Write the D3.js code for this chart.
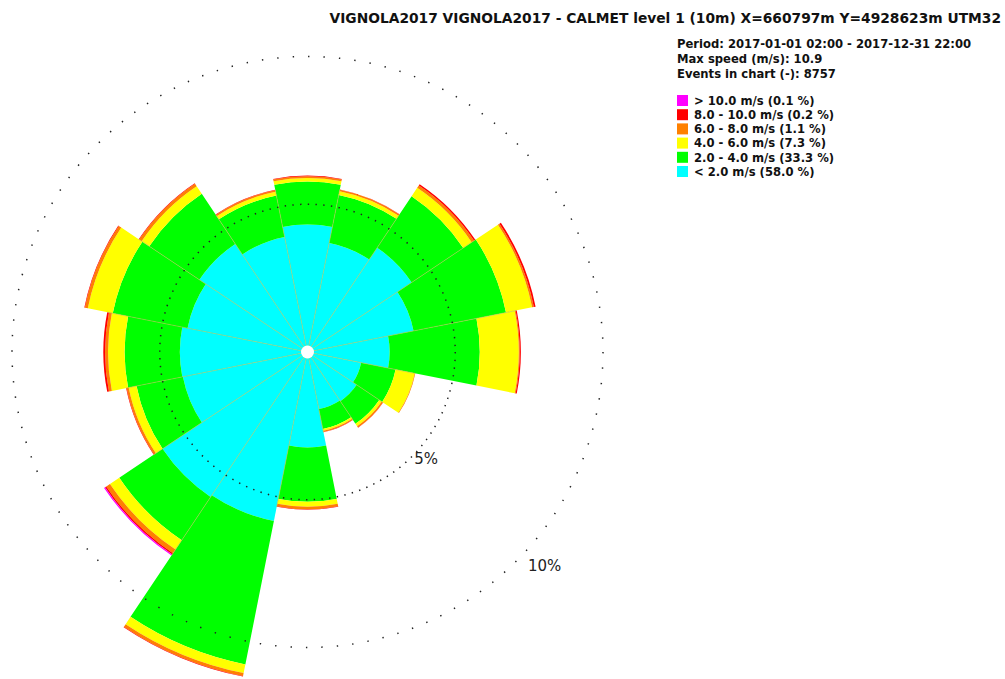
<!DOCTYPE html>
<html>
<head>
<meta charset="utf-8">
<script src="https://cdn.jsdelivr.net/npm/d3@7"></script>
<style>
  html, body { margin: 0; padding: 0; background: #fff; }
  svg { display: block; }
  text { font-family: "DejaVu Sans", sans-serif; }
</style>
</head>
<body>
<svg id="chart" width="1005" height="679"></svg>
<script>
// Wind rose: frequency (%) of each speed class per 22.5° direction sector
const directions = ["N", "NNE", "NE", "ENE", "E", "ESE", "SE", "SSE",
                    "S", "SSW", "SW", "WSW", "W", "WNW", "NW", "NNW"];

const speedBelow2 = [4.31, 3.76, 4.24, 3.66, 2.78, 1.85, 2.00, 1.97, 3.23, 5.83, 5.90, 4.30, 4.32, 4.14, 4.40, 3.97];
const speed2to4   = [1.46, 1.66, 2.10, 3.19, 3.05, 1.19, 0.92, 0.69, 1.84, 4.95, 1.76, 1.60, 1.87, 2.58, 2.04, 1.43];
const speed4to6   = [0.12, 0.13, 0.34, 0.90, 1.32, 0.66, 0.10, 0.06, 0.17, 0.30, 0.38, 0.27, 0.56, 0.86, 0.31, 0.13];
const speed6to8   = [0.06, 0.05, 0.10, 0.06, 0.03, 0.02, 0.05, 0.04, 0.08, 0.10, 0.15, 0.07, 0.10, 0.10, 0.10, 0.05];
const speed8to10  = [0.02, 0.01, 0.05, 0.06, 0.04, 0.00, 0.01, 0.01, 0.02, 0.02, 0.05, 0.02, 0.06, 0.02, 0.02, 0.02];
const speedAbove10 = [0, 0, 0, 0, 0, 0, 0, 0, 0, 0, 0.04, 0, 0, 0, 0, 0];

// speed classes, innermost first
const classKeys = ["lt2", "s2_4", "s4_6", "s6_8", "s8_10", "gt10"];
const classSeries = [speedBelow2, speed2to4, speed4to6, speed6to8, speed8to10, speedAbove10];
const classColors = ["#00ffff", "#00ff00", "#ffff00", "#ff8000", "#ff0000", "#ff00ff"];

// legend entries, top to bottom
const legendLabels = ["> 10.0 m/s (0.1 %)", "8.0 - 10.0 m/s (0.2 %)", "6.0 - 8.0 m/s (1.1 %)",
                      "4.0 - 6.0 m/s (7.3 %)", "2.0 - 4.0 m/s (33.3 %)", "< 2.0 m/s (58.0 %)"];
const legendColors = ["#ff00ff", "#ff0000", "#ff8000", "#ffff00", "#00ff00", "#00ffff"];

const infoLines = ["Period: 2017-01-01 02:00 - 2017-12-31 22:00",
                   "Max speed (m/s): 10.9",
                   "Events in chart (-): 8757"];

const titleText = "VIGNOLA2017 VIGNOLA2017 - CALMET level 1 (10m) X=660797m Y=4928623m UTM32";

const ringValues = [5, 10];
const ringLabels = ["5%", "10%"];

// ---------------------------------------------------------------------------
const svg = d3.select("#chart");
const cx = 307.5, cy = 352;
const r = d3.scaleLinear().domain([0, 10]).range([0, 295.5]);
const sector = 2 * Math.PI / directions.length;

const rows = directions.map((d, i) => {
  const row = { dir: d, idx: i };
  classKeys.forEach((k, j) => row[k] = classSeries[j][i]);
  return row;
});
const stacked = d3.stack().keys(classKeys)(rows);

const g = svg.append("g").attr("transform", `translate(${cx},${cy})`);

const arc = d3.arc()
  .innerRadius(d => r(d[0]))
  .outerRadius(d => r(d[1]))
  .startAngle(d => d.data.idx * sector - sector / 2)
  .endAngle(d => d.data.idx * sector + sector / 2);

g.selectAll("g.layer")
  .data(stacked)
  .join("g")
  .attr("class", "layer")
  .attr("fill", (d, i) => classColors[i])
  .selectAll("path")
  .data(d => d.filter(p => p[1] - p[0] > 0))
  .join("path")
  .attr("d", arc);

// seams between neighbouring sectors
const totals = rows.map(row => d3.sum(classKeys, k => row[k]));
const seams = directions.map((d, i) => ({
  angle: i * sector + sector / 2,
  len: Math.min(totals[i], totals[(i + 1) % directions.length])
}));
g.selectAll("line.seam")
  .data(seams)
  .join("line")
  .attr("class", "seam")
  .attr("x1", 0).attr("y1", 0)
  .attr("x2", d => Math.sin(d.angle) * r(d.len))
  .attr("y2", d => -Math.cos(d.angle) * r(d.len))
  .attr("stroke", "#b8c050")
  .attr("stroke-opacity", 0.75)
  .attr("stroke-width", 0.8);

// dotted reference circles
g.selectAll("circle.ring")
  .data(ringValues)
  .join("circle")
  .attr("class", "ring")
  .attr("r", d => r(d))
  .attr("fill", "none")
  .attr("stroke", "#222")
  .attr("stroke-width", 1.5)
  .attr("stroke-dasharray", d => {
    const step = 2 * Math.PI * r(d) / 120;
    return `1.4 ${step - 1.4}`;
  });

// ring labels along the south-east diagonal
const labelAngle = 132 * Math.PI / 180;
g.selectAll("text.ringlabel")
  .data(ringValues)
  .join("text")
  .attr("class", "ringlabel")
  .attr("x", d => Math.sin(labelAngle) * r(d) * 1.08)
  .attr("y", d => -Math.cos(labelAngle) * r(d) * 1.08)
  .attr("text-anchor", "middle")
  .attr("dominant-baseline", "central")
  .attr("font-size", "15px")
  .attr("fill", "#222")
  .text((d, i) => ringLabels[i]);

// calm hole at the centre
g.append("circle").attr("r", 6.5).attr("fill", "#fff");

// title
svg.append("text")
  .attr("x", 1001).attr("y", 23)
  .attr("text-anchor", "end")
  .attr("font-size", "13.8px")
  .attr("font-weight", "bold")
  .attr("fill", "#111")
  .text(titleText);

// information block
svg.selectAll("text.info")
  .data(infoLines)
  .join("text")
  .attr("class", "info")
  .attr("x", 677)
  .attr("y", (d, i) => 48.3 + i * 15)
  .attr("font-size", "11.6px")
  .attr("font-weight", "bold")
  .attr("fill", "#111")
  .text(d => d);

// legend
const legend = svg.append("g");
legend.selectAll("rect")
  .data(legendColors)
  .join("rect")
  .attr("x", 677)
  .attr("y", (d, i) => 95 + i * 14.2)
  .attr("width", 11)
  .attr("height", 11)
  .attr("fill", d => d);
legend.selectAll("text")
  .data(legendLabels)
  .join("text")
  .attr("x", 694)
  .attr("y", (d, i) => 104.7 + i * 14.2)
  .attr("font-size", "11.6px")
  .attr("font-weight", "bold")
  .attr("fill", "#111")
  .text(d => d);
</script>
</body>
</html>
